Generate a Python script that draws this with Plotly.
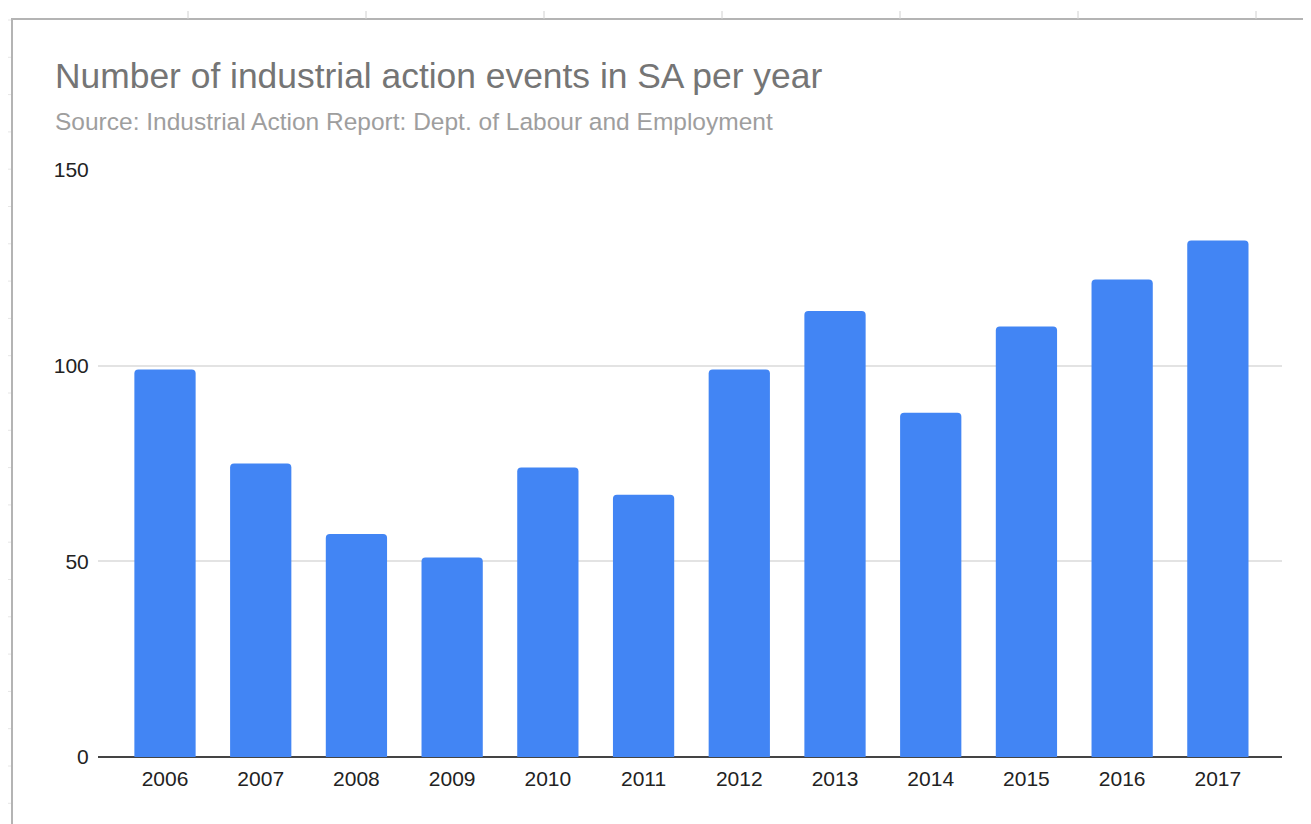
import plotly.graph_objects as go

years = ["2006", "2007", "2008", "2009", "2010", "2011",
         "2012", "2013", "2014", "2015", "2016", "2017"]
events = [99, 75, 57, 51, 74, 67, 99, 114, 88, 110, 122, 132]
y_ticks = [0, 50, 100, 150]

title_text = "Number of industrial action events in SA per year"
subtitle_text = "Source: Industrial Action Report: Dept. of Labour and Employment"

W, H = 1311, 824
OFF = 8  # page body margin offset
L, R, T, B = 98 - OFF, 1282 - OFF, 170 - OFF, 757 - OFF  # plot area (figure px)


def px_x(p):
    """page pixel -> paper x"""
    return (p - OFF - L) / (R - L)


def px_y(p):
    """page pixel -> paper y"""
    return (B - (p - OFF)) / (B - T)


FONT = "Liberation Sans, Arial, sans-serif"

fig = go.Figure(
    go.Bar(
        x=years,
        y=events,
        marker=dict(color="#4285F4", line=dict(width=0), cornerradius=4),
        hoverinfo="x+y",
    )
)

shapes = []
frame_col = "#b4b4b4"
# spreadsheet frame: top & left border
shapes.append(dict(type="line", xref="paper", yref="paper",
                   x0=px_x(12), x1=px_x(W + 20), y0=px_y(19), y1=px_y(19),
                   line=dict(color=frame_col, width=2), layer="above"))
shapes.append(dict(type="line", xref="paper", yref="paper",
                   x0=px_x(12), x1=px_x(12), y0=px_y(18), y1=px_y(H + 20),
                   line=dict(color=frame_col, width=2), layer="above"))
# column ticks above the frame
for cx in [188, 366, 544, 722, 900, 1078, 1256]:
    shapes.append(dict(type="line", xref="paper", yref="paper",
                       x0=px_x(cx), x1=px_x(cx), y0=px_y(11), y1=px_y(19),
                       line=dict(color="#d0d0d0", width=1)))
# faint row ticks on the left edge
ry = 20
while ry < H:
    shapes.append(dict(type="line", xref="paper", yref="paper",
                       x0=px_x(7), x1=px_x(11), y0=px_y(ry), y1=px_y(ry),
                       line=dict(color="#e6e6e6", width=1)))
    ry += 37.3

fig.update_layout(
    width=W, height=H, autosize=False,
    margin=dict(l=L, r=W - R, t=T, b=H - B, pad=0),
    paper_bgcolor="white", plot_bgcolor="white",
    bargap=0.36,
    showlegend=False,
    font=dict(family=FONT, color="#222222"),
    xaxis=dict(
        type="category",
        range=[-0.70, 11.67],
        showgrid=False,
        showline=False,
        zeroline=False,
        ticks="outside", ticklen=3, tickcolor="rgba(0,0,0,0)",
        tickfont=dict(size=21, color="#222222", family=FONT),
        fixedrange=True,
    ),
    yaxis=dict(
        range=[0, 150],
        tickvals=y_ticks,
        ticktext=[str(v) for v in y_ticks],
        showgrid=True, gridcolor="#e3e3e3", gridwidth=2,
        zeroline=True, zerolinecolor="#444444", zerolinewidth=2,
        showline=False,
        ticks="outside", ticklen=4, tickcolor="rgba(0,0,0,0)",
        tickfont=dict(size=21, color="#222222", family=FONT),
        fixedrange=True,
    ),
    shapes=shapes,
    annotations=[
        dict(text=title_text, xref="paper", yref="paper",
             x=px_x(53), y=px_y(54), xanchor="left", yanchor="top",
             showarrow=False,
             font=dict(size=35.4, color="#757575", family=FONT)),
        dict(text=subtitle_text, xref="paper", yref="paper",
             x=px_x(53), y=px_y(106), xanchor="left", yanchor="top",
             showarrow=False,
             font=dict(size=24.5, color="#9e9e9e", family=FONT)),
    ],
)

fig.write_html("out.html", config={"displayModeBar": False})
